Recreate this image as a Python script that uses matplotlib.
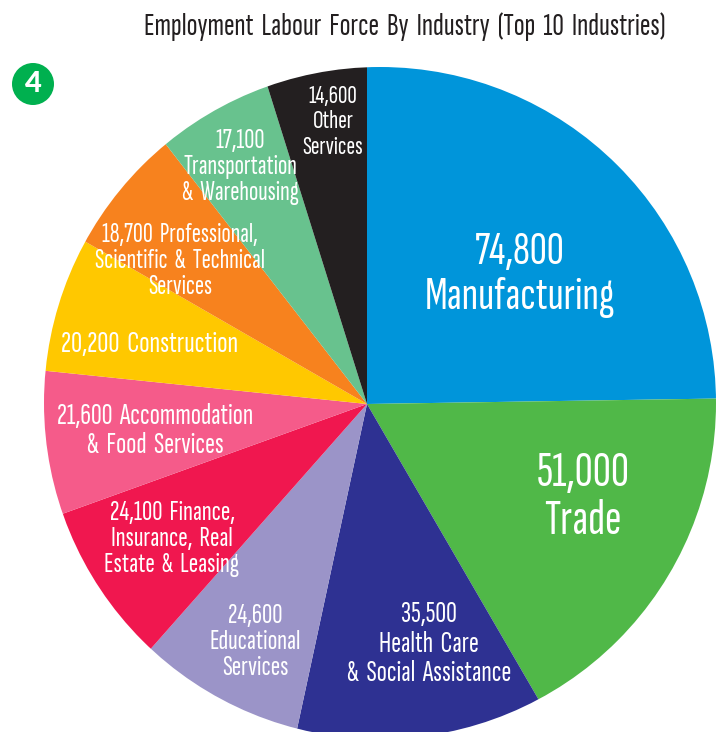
import matplotlib
matplotlib.use("Agg")
import matplotlib.pyplot as plt
from matplotlib.patches import Circle

labels = ["74,800\nManufacturing", "51,000\nTrade", "35,500\nHealth  Care\n&  Social  Assistance",
          "24,600\nEducational\nServices", "24,100  Finance,\nInsurance,  Real\nEstate  &  Leasing",
          "21,600  Accommodation\n&  Food  Services", "20,200  Construction",
          "18,700  Professional,\nScientific  &  Technical\nServices",
          "17,100\nTransportation\n&  Warehousing", "14,600\nOther\nServices"]
values = [74800, 51000, 35500, 24600, 24100, 21600, 20200, 18700, 17100, 14600]
colors = ["#0095DA", "#50B848", "#2E3192", "#9B94C8", "#F0174F", "#F55B8A", "#FFC800", "#F7821E", "#68C28E", "#231F20"]

# label centres in pixels, the figure is laid out in pixel units
label_xy = [(520, 275), (583, 497), (429, 644), (255, 642), (172, 539), (155, 431),
            (150, 345), (180, 261), (240, 167), (333, 122)]
label_size = [34, 36, 21.5, 20.5, 20.5, 21.5, 22, 19.8, 20, 18.8]
narrow = ["Sofia Sans Extra Condensed", "Barlow Condensed", "Lato", "DejaVu Sans"]

W, H = 719, 732
fig = plt.figure(figsize=(W / 100, H / 100), dpi=100)
ax = fig.add_axes([0, 0, 1, 1])

# the spokes meet left of the middle of the disc, so wedges overshoot and get clipped to it
disc = Circle((380, 403), 336, transform=ax.transData)
wedges, _ = ax.pie(values, colors=colors, radius=420, center=(367, 404), startangle=-90,
                   counterclock=True, frame=True, wedgeprops={"linewidth": 0})
for w in wedges:
    w.set_clip_on(True)
    w.set_clip_path(disc)
ax.set_xlim(0, W)
ax.set_ylim(H, 0)
ax.set_aspect("equal")
ax.axis("off")

for text, (x, y), size in zip(labels, label_xy, label_size):
    ax.text(x, y, text, color="white", fontsize=size, ha="center", va="center",
            family=narrow, linespacing=1.12)

ax.text(405, 27, "Employment  Labour  Force  By  Industry  (Top  10  Industries)", color="#231F20",
        fontsize=23, ha="center", va="center", family=narrow)

ax.add_patch(Circle((33, 84), 21, color="#00B04F", lw=0))
ax.text(33, 84, "4", color="white", fontsize=21, fontweight="black", ha="center", va="center",
        family=["Lato", "DejaVu Sans"])

fig.savefig("out.png", dpi=100)
